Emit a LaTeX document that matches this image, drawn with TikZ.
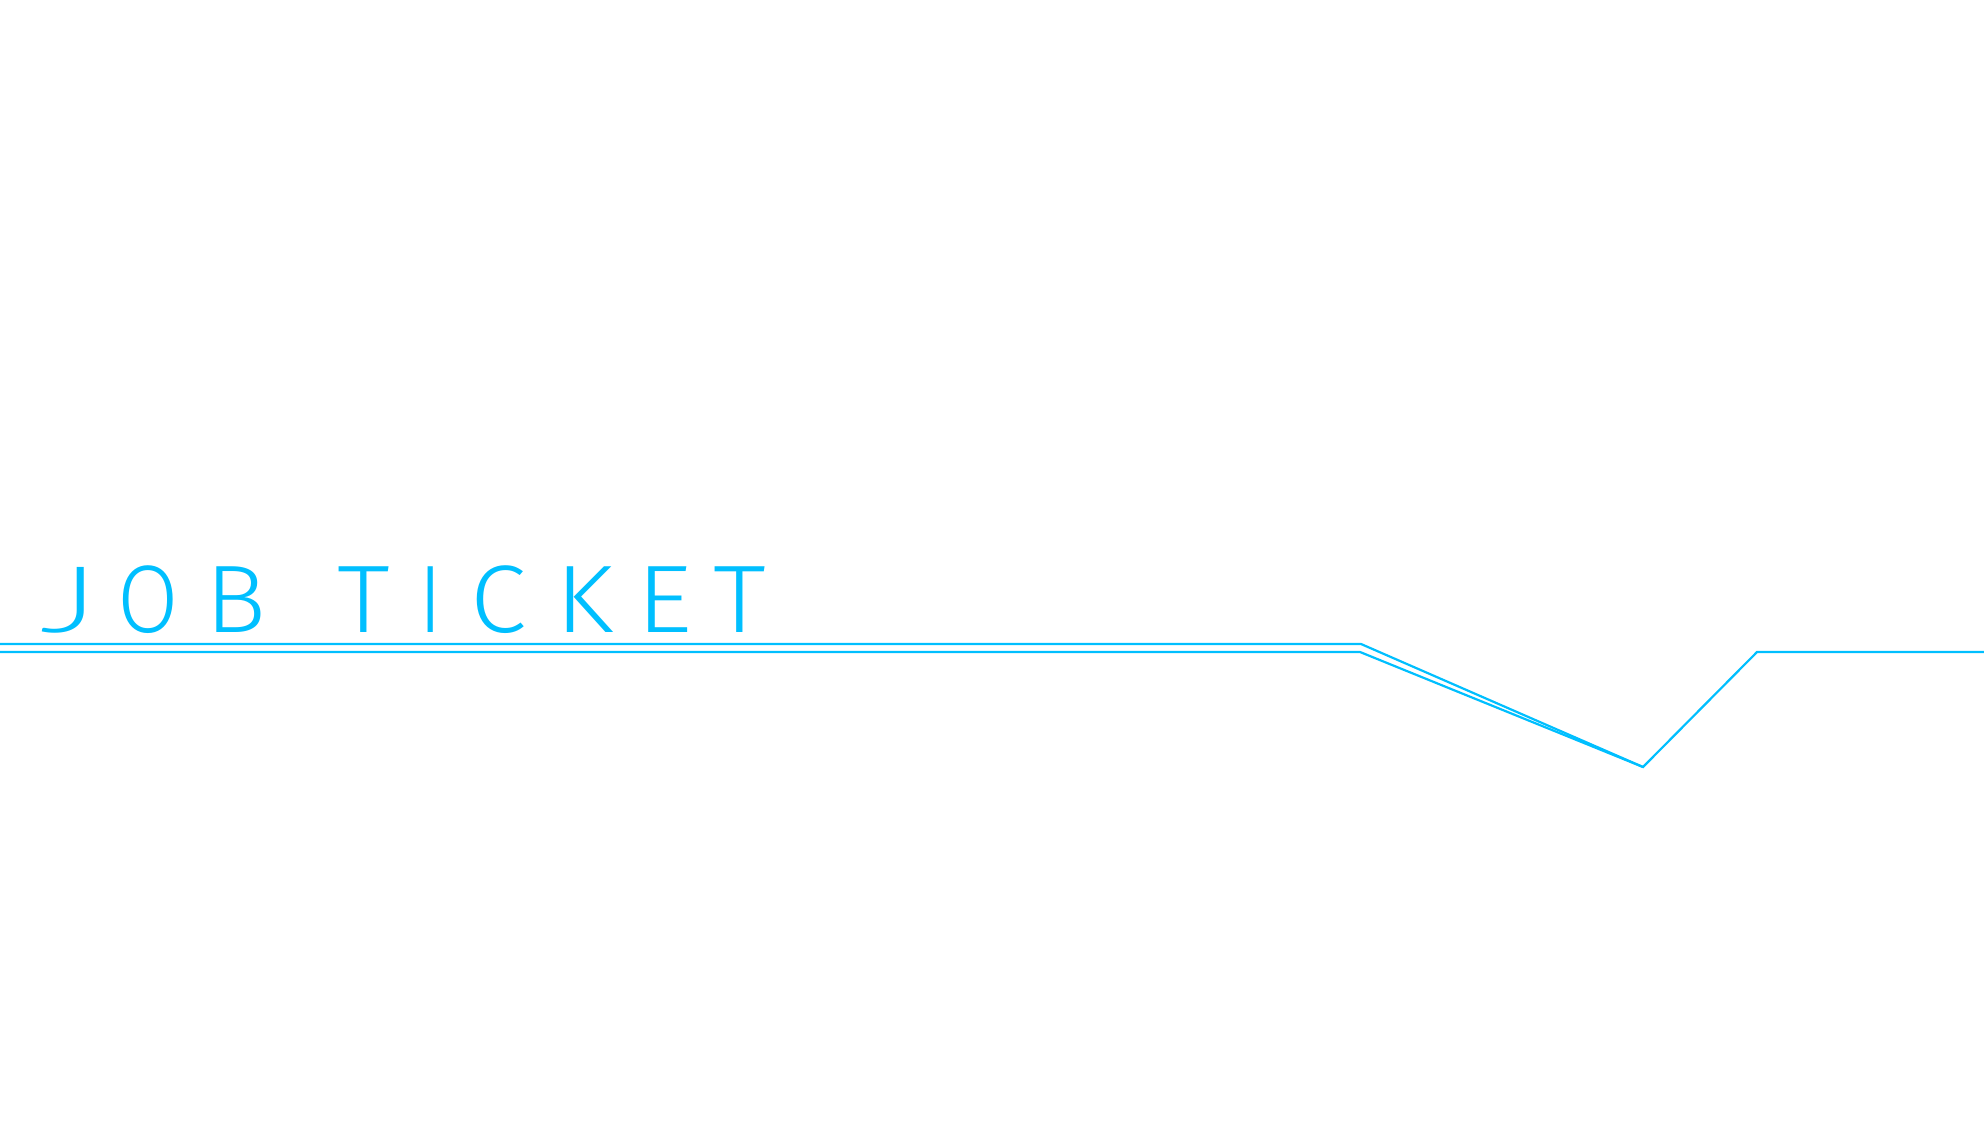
\documentclass[tikz,border=0pt]{standalone}
\usepackage{fontspec}
\usepackage{graphicx}
\newfontfamily\ticketfont[FakeStretch=0.9]{Fira Sans Light}
\newfontfamily\hookfont{Lato Light}
\definecolor{skyc}{HTML}{00BFFF}
% place a letter centred at #1 from the start of the line, scaled #2 horizontally
\newcommand\glyphat[3]{\makebox[0pt][l]{\hspace*{#1}\makebox[0pt][c]{\scalebox{#2}[1]{#3}}}}
\begin{document}
\begin{tikzpicture}[x=0.5pt,y=-0.5pt,
  rail/.style={draw=skyc,line width=1.1pt,line join=miter},
  title/.style={text=skyc,font=\ticketfont\fontsize{48}{48}\selectfont,inner sep=0pt,anchor=base west}]
\useasboundingbox (0,0) rectangle (1984,1134);
\node[title] (ttl) at (0,632) {%
  \glyphat{34.5pt}{1.5}{\hookfont\fontsize{46}{46}\selectfont J}%
  \glyphat{73.75pt}{1.03}{O}%
  \glyphat{118pt}{1.18}{B}%
  \glyphat{181.75pt}{1.23}{T}%
  \glyphat{215.25pt}{1}{I}%
  \glyphat{249pt}{1.18}{C}%
  \glyphat{292.25pt}{1.23}{K}%
  \glyphat{332.25pt}{1.27}{E}%
  \glyphat{369.75pt}{1.23}{T}\hspace*{400pt}};
\coordinate (a0) at (0,644);
\coordinate (a1) at (1361,644);
\coordinate (v) at (1643,767);
\coordinate (b0) at (0,652);
\coordinate (b1) at (1360,652);
\coordinate (c1) at (1757,652);
\coordinate (c2) at (1984,652);
\draw[rail] (a0) -- (a1) -- (v);
\draw[rail] (b0) -- (b1) -- (v) -- (c1) -- (c2);
\end{tikzpicture}
\end{document}
